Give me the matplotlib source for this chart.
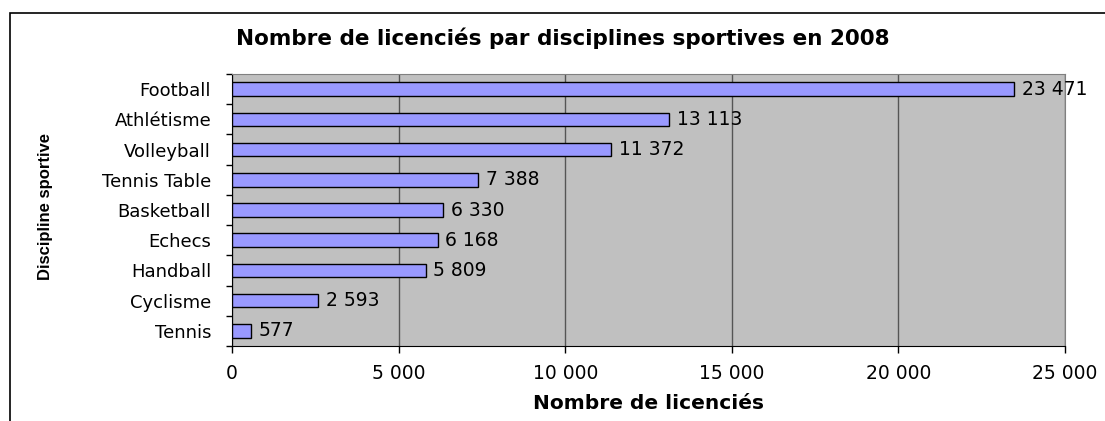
import numpy as np
import matplotlib
matplotlib.use("Agg")
import matplotlib.pyplot as plt
from matplotlib.ticker import FuncFormatter, FixedLocator

plt.rcParams['font.family'] = ['DejaVu Sans']

# data
disciplines = ['Football', 'Athlétisme', 'Volleyball', 'Tennis Table', 'Basketball',
               'Echecs', 'Handball', 'Cyclisme', 'Tennis']
licencies = [23471, 13113, 11372, 7388, 6330, 6168, 5809, 2593, 577]

def fmt(v):
    return '{:,}'.format(int(v)).replace(',', ' ')

fig = plt.figure(figsize=(11.05, 4.21), dpi=100)
# chart border (Excel-like frame)
fig.patches.append(plt.Rectangle((10/1105, -0.01), 1.1, 1 - 13/421 + 0.01,
                                 transform=fig.transFigure, fill=False,
                                 edgecolor='black', linewidth=1.2))

ax = fig.add_axes([232/1105, 1 - 346/421, (1065 - 232)/1105, (346 - 74)/421])
ax.set_facecolor('#C0C0C0')

y = np.arange(len(disciplines))
ax.barh(y, licencies, height=0.45, color='#9999FF', edgecolor='black', linewidth=1, zorder=3)
for yi, v in zip(y, licencies):
    ax.text(v + 230, yi, fmt(v), va='center', ha='left', fontsize=13.5, zorder=4)

ax.set_ylim(len(disciplines) - 0.5, -0.5)
ax.set_xlim(0, 25000)
ax.set_yticks(y)
ax.set_yticklabels(disciplines, fontsize=13)
ax.tick_params(axis='y', which='major', length=0, pad=15)
ax.yaxis.set_minor_locator(FixedLocator(np.arange(-0.5, len(disciplines), 1)))
ax.tick_params(axis='y', which='minor', length=4, width=1)

ax.set_xticks(np.arange(0, 25001, 5000))
ax.xaxis.set_major_formatter(FuncFormatter(lambda v, p: fmt(v)))
ax.tick_params(axis='x', length=5, width=1, labelsize=13.5, pad=8)
ax.grid(axis='x', color='#555555', linewidth=1, zorder=1)

for s in ['top', 'right']:
    ax.spines[s].set_color('#808080')
for s in ['left', 'bottom']:
    ax.spines[s].set_color('black')

fig.text(563/1105, 1 - 38/421, 'Nombre de licenciés par disciplines sportives en 2008',
         ha='center', va='center', fontsize=15.5, fontweight='bold')
ax.set_xlabel('Nombre de licenciés', fontsize=14.5, fontweight='bold', labelpad=8)
fig.text(46/1105, 1 - 207/421, 'Discipline sportive', rotation=90, va='center', ha='center',
         fontsize=12, fontweight='bold', family='Liberation Sans')

fig.savefig('out.png', dpi=100, facecolor='white')
